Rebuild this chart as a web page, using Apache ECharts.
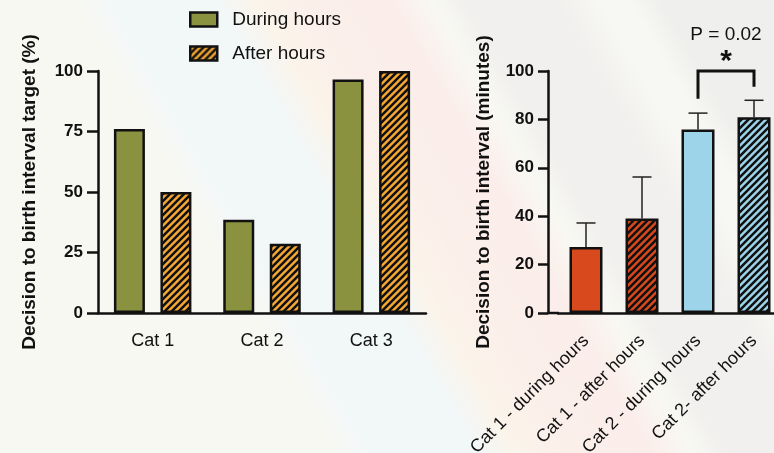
<!DOCTYPE html>
<html><head><meta charset="utf-8">
<script src="https://cdn.jsdelivr.net/npm/echarts@6/dist/echarts.min.js"></script>
<style>
html,body{margin:0;padding:0;}
body{width:774px;height:453px;overflow:hidden;background:#f8f8f3;position:relative;}
#bg{position:absolute;left:0;top:0;width:774px;height:453px;
background:linear-gradient(60deg,#f8f8f2 0%,#f8f8f2 32%,#f2f7f8 36%,#f2f7f8 46%,#fbf4ea 50%,#fbefea 55%,#fbeeea 63%,#f8f8f3 67%,#f1f0ee 70%,#f1f0ee 79%,#f7f7f3 83%,#f7f7f3 86%,#efefed 89%,#efefed 100%);}
#c{position:absolute;left:0;top:0;width:774px;height:453px;}
</style></head>
<body><div id="bg"></div><div id="c"></div>
<script>
// ---- Left chart data ----
const leftCategories = ['Cat 1', 'Cat 2', 'Cat 3'];
const duringHours = [76, 38.5, 96.5];
const afterHours = [50, 28.6, 100];
const leftTicks = [0, 25, 50, 75, 100];
const legendNames = ['During hours', 'After hours'];

// ---- Right chart data ----
const rightCategories = ['Cat 1 - during hours', 'Cat 1 - after hours', 'Cat 2 - during hours', 'Cat 2- after hours'];
const rightMeans = [27.3, 39.1, 75.8, 80.9];
const rightUpper = [37.2, 56.2, 82.6, 87.9];
const rightHatched = [false, true, false, true];
const rightTicks = [0, 20, 40, 60, 80, 100];
const bracketFrom = [2];
const bracketTo = [3];
const bracketTop = [100];
const bracketLeftEnd = [88.5];
const bracketRightEnd = [93.5];
const pLabel = 'P = 0.02';
const starLabel = '*';

const FONT = "'Liberation Sans', Arial, Helvetica, sans-serif";
const INK = '#111111';
const GREEN = '#8b923f';
const ORANGE = '#f6a834';
const RED = '#d9491e';
const BLUE = '#9dd4e9';

function hatch(bg) {
  const s = 7;
  const c = document.createElement('canvas');
  c.width = s; c.height = s;
  const g = c.getContext('2d');
  g.fillStyle = bg; g.fillRect(0, 0, s, s);
  g.strokeStyle = INK; g.lineWidth = 2.5; g.lineCap = 'square';
  g.beginPath();
  g.moveTo(-2, s + 2); g.lineTo(s + 2, -2);
  g.moveTo(-2, 2); g.lineTo(2, -2);
  g.moveTo(s - 2, s + 2); g.lineTo(s + 2, s - 2);
  g.stroke();
  return { image: c, repeat: 'repeat' };
}

const axisLineStyle = { color: INK, width: 2.5 };
const yLabel = { color: INK, fontFamily: FONT, fontWeight: 'bold', fontSize: 17, margin: 15 };
const nameStyle = { color: INK, fontFamily: FONT, fontWeight: 'bold', fontSize: 19 };

const chart = echarts.init(document.getElementById('c'), null, { renderer: 'canvas' });

const option = {
  backgroundColor: 'transparent',
  animation: false,
  textStyle: { fontFamily: FONT },
  legend: {
    data: legendNames,
    orient: 'vertical',
    icon: 'rect',
    left: 184, top: 5,
    itemWidth: 27, itemHeight: 14, itemGap: 15,
    itemStyle: { borderColor: INK, borderWidth: 2.5 },
    textStyle: { color: INK, fontFamily: FONT, fontSize: 19, padding: [0, 0, 0, 10] }
  },
  grid: [
    { left: 98, top: 71, width: 328, height: 242, containLabel: false, outerBoundsMode: 'none' },
    { left: 558, top: 71, width: 224, height: 242, containLabel: false, outerBoundsMode: 'none' }
  ],
  xAxis: [
    {
      type: 'category', gridIndex: 0, data: leftCategories,
      axisLine: { lineStyle: axisLineStyle },
      axisTick: { alignWithLabel: true, length: 10, lineStyle: axisLineStyle },
      axisLabel: { color: INK, fontFamily: FONT, fontSize: 18, margin: 19 }
    },
    {
      type: 'category', gridIndex: 1, data: rightCategories,
      axisLine: { lineStyle: axisLineStyle },
      axisTick: { alignWithLabel: true, length: 10, lineStyle: axisLineStyle },
      axisLabel: { color: INK, fontFamily: FONT, fontSize: 18, margin: 25, rotate: 45, interval: 0 }
    }
  ],
  yAxis: [
    {
      type: 'value', gridIndex: 0, min: leftTicks[0], max: leftTicks[leftTicks.length - 1],
      interval: leftTicks[1] - leftTicks[0],
      axisLine: { show: true, lineStyle: axisLineStyle },
      axisTick: { show: true, length: 11, lineStyle: axisLineStyle },
      axisLabel: yLabel, splitLine: { show: false },
      name: 'Decision to birth interval target (%)', nameLocation: 'middle', nameGap: 59,
      nameTextStyle: nameStyle
    },
    {
      type: 'value', gridIndex: 1, min: rightTicks[0], max: rightTicks[rightTicks.length - 1],
      interval: rightTicks[1] - rightTicks[0], offset: 10,
      axisLine: { show: true, lineStyle: axisLineStyle },
      axisTick: { show: true, length: 10, lineStyle: axisLineStyle },
      axisLabel: { ...yLabel, margin: 14 }, splitLine: { show: false },
      name: 'Decision to birth interval (minutes)', nameLocation: 'middle', nameGap: 55,
      nameTextStyle: nameStyle
    }
  ],
  series: [
    {
      name: legendNames[0], type: 'bar', xAxisIndex: 0, yAxisIndex: 0,
      data: duringHours, barWidth: 31, barGap: '50%',
      itemStyle: { color: GREEN, borderColor: INK, borderWidth: 2.5 }
    },
    {
      name: legendNames[1], type: 'bar', xAxisIndex: 0, yAxisIndex: 0,
      data: afterHours, barWidth: 31, barGap: '50%',
      itemStyle: { color: hatch(ORANGE), borderColor: INK, borderWidth: 2.5 }
    },
    {
      type: 'custom', xAxisIndex: 1, yAxisIndex: 1, z: 1,
      data: rightMeans.map((v, i) => [i, v, rightUpper[i]]),
      renderItem: function (params, api) {
        const p0 = api.coord([api.value(0), api.value(1)]);
        const p1 = api.coord([api.value(0), api.value(2)]);
        const half = 9.5;
        return {
          type: 'group', children: [
            { type: 'line', shape: { x1: p0[0], y1: p0[1], x2: p1[0], y2: p1[1] }, style: { stroke: '#222', lineWidth: 1.5 } },
            { type: 'line', shape: { x1: p1[0] - half, y1: p1[1], x2: p1[0] + half, y2: p1[1] }, style: { stroke: '#222', lineWidth: 1.5 } }
          ]
        };
      }
    },
    {
      type: 'bar', xAxisIndex: 1, yAxisIndex: 1, z: 2, barWidth: 33,
      data: rightMeans.map((v, i) => ({
        value: v,
        itemStyle: { color: rightHatched[i] ? hatch(i < 2 ? RED : BLUE) : (i < 2 ? RED : BLUE) }
      })),
      itemStyle: { borderColor: INK, borderWidth: 2.5 }
    },
    {
      type: 'custom', xAxisIndex: 1, yAxisIndex: 1, z: 3, clip: false,
      data: bracketFrom.map((f, i) => [f, bracketTo[i], bracketTop[i], bracketLeftEnd[i], bracketRightEnd[i]]),
      renderItem: function (params, api) {
        const a = api.coord([api.value(0), api.value(3)]);
        const b = api.coord([api.value(0), api.value(2)]);
        const c = api.coord([api.value(1), api.value(2)]);
        const d = api.coord([api.value(1), api.value(4)]);
        const mx = (b[0] + c[0]) / 2;
        return {
          type: 'group', children: [
            { type: 'polyline', shape: { points: [a, b, c, d] }, style: { stroke: INK, lineWidth: 3, fill: null } },
            { type: 'text', style: { text: starLabel, x: mx, y: b[1] - 9, align: 'center', verticalAlign: 'middle', font: 'bold 30px ' + FONT, fill: INK } },
            { type: 'text', style: { text: pLabel, x: mx, y: b[1] - 36, align: 'center', verticalAlign: 'middle', font: '19px ' + FONT, fill: INK } }
          ]
        };
      }
    }
  ]
};
chart.setOption(option);

// Extend right chart baseline from the offset y-axis to the grid start
const y0 = chart.convertToPixel({ yAxisIndex: 1 }, 0);
const gridRect = chart.getModel().getComponent('grid', 1).coordinateSystem.getRect();
chart.setOption({
  graphic: [{
    type: 'line', z: 10,
    shape: { x1: gridRect.x - 11, y1: y0, x2: gridRect.x + 1, y2: y0 },
    style: { stroke: INK, lineWidth: 2.5 }
  }]
});
</script>
</body></html>
